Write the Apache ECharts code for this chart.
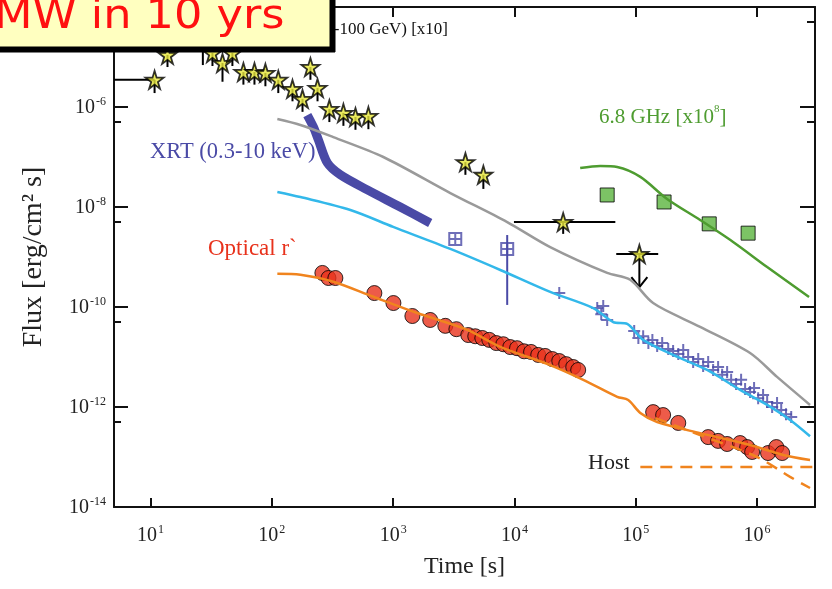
<!DOCTYPE html>
<html>
<head>
<meta charset="utf-8">
<script src="https://cdn.jsdelivr.net/npm/echarts@6/dist/echarts.min.js"></script>
<style>
html,body{margin:0;padding:0;background:#fff}
#main{width:832px;height:589px}
</style>
</head>
<body>
<div id="main"></div>
<script>
// LAT (0.1-100 GeV) x10 : stars with downward bars
var latTime = [10.8, 13.8, 27, 32.4, 39.2, 47.3, 58.3, 71.9, 88.5, 113, 148, 179, 208, 238, 298, 389, 489, 625, 3940, 5540, 25200];
var latFlux = [3.5e-6, 1.1e-5, 2.5e-5, 1.2e-5, 7.6e-6, 1.2e-5, 5e-6, 5e-6, 4.8e-6, 3.5e-6, 2.3e-6, 1.45e-6, 6.3e-6, 2.4e-6, 9.1e-7, 7.6e-7, 6.3e-7, 6.6e-7, 7.9e-8, 4.4e-8, 5e-9];
var latFluxLo = [1.9e-6, 6.3e-6, 6.9e-6, 6.6e-6, 3.2e-6, 6.6e-6, 2.8e-6, 2.8e-6, 2.6e-6, 1.9e-6, 1.3e-6, 8e-7, 3.5e-6, 1.3e-6, 5e-7, 4.2e-7, 3.5e-7, 3.6e-7, 4.4e-8, 2.3e-8, 2.9e-9];
var latBarT0 = [5, 9900];
var latBarT1 = [10.8, 67800];
var latBarF = [3.5e-6, 5e-9];
// LAT upper limit
var ulTime = [1.07e5];
var ulFlux = [1.15e-9];
var ulTo = [2.5e-10];
var ulT0 = [6.9e4];
var ulT1 = [1.53e5];

// model curves
var grayT = [111, 172, 321, 830, 2960, 8710, 19700, 58100, 89900, 139000, 339000, 875000, 1.46e6, 2.73e6];
var grayF = [5.75e-7, 4.37e-7, 2.5e-7, 1e-7, 1.9e-8, 5e-9, 1.58e-9, 4.8e-10, 3.5e-10, 1.2e-10, 4e-11, 1.2e-11, 4e-12, 1.1e-12];
var cyanT = [111, 172, 444, 1000, 2960, 7640, 19700, 44600, 65100, 85000, 115000, 203000, 387000, 724000, 1.21e6, 1.87e6, 2.73e6];
var cyanF = [2e-8, 1.58e-8, 8.7e-9, 4e-9, 1.45e-9, 5.5e-10, 2e-10, 9.5e-11, 5e-11, 4.6e-11, 2.2e-11, 1.1e-11, 5.5e-12, 2.2e-12, 1.1e-12, 5.5e-13, 2.6e-13];
var orangeT = [111, 172, 321, 687, 1580, 4080, 7640, 19700, 36900, 70300, 86600, 109000, 150000, 339000, 875000, 1.64e6, 2.73e6];
var orangeF = [4.6e-10, 4.4e-10, 3.2e-10, 1.6e-10, 7.6e-11, 3.5e-11, 1.6e-11, 6.9e-12, 3.5e-12, 1.6e-12, 1.38e-12, 7.6e-13, 5e-13, 3e-13, 1.74e-13, 1.1e-13, 8.7e-14];
var noHostT = [145000, 339000, 1e6, 1.87e6, 2.73e6];
var noHostF = [6e-13, 2.75e-13, 1e-13, 4e-14, 2.4e-14];
var hostT = [1.09e5, 3e6];
var hostF = [6.3e-14, 6.3e-14];
var greenT = [34800, 50900, 70300, 109000, 181000, 339000, 634000, 1.21e6, 2.68e6];
var greenF = [6e-8, 6.6e-8, 6.3e-8, 4e-8, 1.45e-8, 5.5e-9, 2e-9, 6.3e-10, 1.58e-10];

// XRT (0.3-10 keV)
var xrtT = [196, 220, 242, 287, 367, 613, 1145, 2020];
var xrtF = [6.9e-7, 4e-7, 2.2e-7, 7.6e-8, 4.4e-8, 2.2e-8, 1e-8, 4.8e-9];
var xrtBoxT = [3250, 8710];
var xrtBoxF = [2.3e-9, 1.45e-9];
var xrtBoxHi = [2.3e-9, 2.75e-9];
var xrtBoxLo = [2.3e-9, 1.1e-10];
var xrtLateT = [23400, 48100, 53900, 51900, 58100, 97000, 105000, 115000, 127000, 137000, 150000, 165000, 185000, 203000, 224000, 246000, 270000, 297000, 327000, 359000, 395000, 434000, 477000, 515000, 566000, 611000, 671000, 738000, 796000, 875000, 944000, 1.02e6, 1.12e6, 1.21e6, 1.33e6, 1.46e6, 1.58e6, 1.73e6, 1.91e6];
var xrtLateF = [1.9e-10, 9.5e-11, 1.05e-10, 7.2e-11, 5.5e-11, 3.3e-11, 2.4e-11, 2.6e-11, 1.9e-11, 2.2e-11, 1.66e-11, 1.9e-11, 1.45e-11, 1.32e-11, 1.15e-11, 1.38e-11, 1e-11, 7.9e-12, 9.1e-12, 6.6e-12, 7.9e-12, 5.5e-12, 6.3e-12, 4.4e-12, 5e-12, 3.5e-12, 2.9e-12, 3.5e-12, 2.3e-12, 2e-12, 2.4e-12, 1.5e-12, 1.74e-12, 1.26e-12, 1e-12, 1.2e-12, 8.7e-13, 7.2e-13, 6.3e-13];

// Optical r`
var optT = [261, 293, 334, 700, 1005, 1440, 2020, 2690, 3320, 4160, 4750, 5430, 6200, 7080, 8090, 9230, 10500, 12000, 13700, 15700, 17900, 20500, 23400, 26700, 30500, 33500, 139000, 168000, 224000, 395000, 477000, 566000, 724000, 828000, 910000, 1.23e6, 1.44e6, 1.61e6];
var optF = [4.8e-10, 3.8e-10, 3.8e-10, 1.9e-10, 1.2e-10, 6.6e-11, 5.5e-11, 4.2e-11, 3.6e-11, 2.75e-11, 2.6e-11, 2.4e-11, 2.2e-11, 1.9e-11, 1.8e-11, 1.58e-11, 1.5e-11, 1.3e-11, 1.26e-11, 1.1e-11, 1.05e-11, 9.1e-12, 8.3e-12, 7.2e-12, 6.3e-12, 5.5e-12, 7.9e-13, 6.9e-13, 4.8e-13, 2.5e-13, 2.1e-13, 1.82e-13, 1.9e-13, 1.58e-13, 1.26e-13, 1.2e-13, 1.58e-13, 1.2e-13];

// 6.8 GHz x10^8
var radioT = [58100, 171000, 403000, 843000];
var radioF = [1.74e-8, 1.26e-8, 4.6e-9, 3e-9];

var SERIF = 'Liberation Serif';
var STAR = 'path://M50,0 L61,35 L98,35 L68,57 L79,91 L50,70 L21,91 L32,57 L2,35 L39,35 Z';
var BOXCROSS = 'path://M0,0 L10,0 L10,10 L0,10 Z M5,0 L5,10 M0,5 L10,5';
var PLUS = 'path://M5,0 L5,10 M0,5 L10,5';

function pairs(t, f) {
  return t.map(function (v, i) { return [v, f[i]]; });
}
function segs(t0, f0, t1, f1) {
  return t0.map(function (v, i) { return [v, f0[i], t1[i], f1[i]]; });
}
function segRender(params, api) {
  var p0 = api.coord([api.value(0), api.value(1)]);
  var p1 = api.coord([api.value(2), api.value(3)]);
  return {
    type: 'line',
    shape: { x1: p0[0], y1: p0[1], x2: p1[0], y2: p1[1] },
    style: { stroke: api.visual('color'), lineWidth: 2 }
  };
}
function arrowRender(params, api) {
  var p0 = api.coord([api.value(0), api.value(1)]);
  var p1 = api.coord([api.value(0), api.value(2)]);
  return {
    type: 'group',
    children: [
      { type: 'line', shape: { x1: p0[0], y1: p0[1], x2: p1[0], y2: p1[1] }, style: { stroke: '#000', lineWidth: 2 } },
      { type: 'polyline', shape: { points: [[p1[0] - 8, p1[1] - 10], [p1[0], p1[1]], [p1[0] + 8, p1[1] - 10]] }, style: { stroke: '#000', lineWidth: 2, fill: null } }
    ]
  };
}
function logLabel(v) {
  var e = Math.log10(v);
  var r = Math.round(e);
  if (Math.abs(e - r) > 0.01 || r === -4) return '';
  return '{b|10}{s|' + r + '}';
}
var labelRich = {
  b: { fontFamily: SERIF, fontSize: 20, color: '#222', lineHeight: 22, verticalAlign: 'bottom' },
  s: { fontFamily: SERIF, fontSize: 12, color: '#222', lineHeight: 22, verticalAlign: 'top', padding: [0, 0, 0, 1] }
};
var axisLineStyle = { color: '#111', width: 2 };

var chart = echarts.init(document.getElementById('main'));
var option = {
  backgroundColor: '#fff',
  animation: false,
  grid: { left: 114, right: 17, top: 7, bottom: 82 },
  xAxis: [{
    type: 'log', min: 5, max: 3e6, position: 'bottom',
    axisLine: { lineStyle: axisLineStyle },
    axisTick: { inside: true, length: 9, lineStyle: { color: '#111', width: 2 } },
    axisLabel: { formatter: logLabel, rich: labelRich, margin: 17 },
    splitLine: { show: false },
    name: 'Time [s]', nameLocation: 'middle', nameGap: 48,
    nameTextStyle: { fontFamily: SERIF, fontSize: 24, color: '#222' }
  }, {
    type: 'log', min: 5, max: 3e6, position: 'top',
    axisLine: { lineStyle: axisLineStyle },
    axisTick: { inside: true, length: 10, lineStyle: { color: '#111', width: 2 } },
    axisLabel: { show: false },
    splitLine: { show: false }
  }],
  yAxis: [{
    type: 'log', min: 1e-14, max: 1e-4, interval: 2, position: 'left',
    axisLine: { lineStyle: axisLineStyle },
    axisTick: { inside: true, length: 14, lineStyle: { color: '#111', width: 2 } },
    minorTick: { show: true, splitNumber: 2, length: 7, lineStyle: { color: '#111', width: 2 } },
    axisLabel: { formatter: logLabel, rich: labelRich, margin: 8 },
    splitLine: { show: false },
    minorSplitLine: { show: false },
    name: 'Flux [erg/cm² s]', nameLocation: 'middle', nameGap: 66, nameRotate: 90,
    nameTextStyle: { fontFamily: SERIF, fontSize: 28, color: '#222' }
  }, {
    type: 'log', min: 1e-14, max: 1e-4, interval: 2, position: 'right',
    axisLine: { lineStyle: axisLineStyle },
    axisTick: { inside: true, length: 15, lineStyle: { color: '#111', width: 2 } },
    minorTick: { show: true, splitNumber: 2, length: 8, lineStyle: { color: '#111', width: 2 } },
    axisLabel: { show: false },
    splitLine: { show: false },
    minorSplitLine: { show: false }
  }],
  series: [
    { name: 'XRT band', type: 'line', data: pairs(xrtT, xrtF), showSymbol: false, smooth: 0.3,
      lineStyle: { color: '#4a4aa6', width: 9 }, z: 2 },
    { name: 'XRT box err', type: 'custom', renderItem: segRender, itemStyle: { color: '#4a4aa6' },
      data: segs(xrtBoxT, xrtBoxHi, xrtBoxT, xrtBoxLo), encode: { x: [0, 2], y: [1, 3] }, z: 2 },
    { name: 'XRT box', type: 'scatter', data: pairs(xrtBoxT, xrtBoxF), symbol: BOXCROSS, symbolSize: 12,
      itemStyle: { color: 'rgba(0,0,0,0)', borderColor: '#4a4aa6', borderWidth: 2 }, z: 3 },
    { name: 'XRT late', type: 'scatter', data: pairs(xrtLateT, xrtLateF), symbol: PLUS, symbolSize: 12,
      itemStyle: { color: 'rgba(0,0,0,0)', borderColor: '#4a4aa6', borderWidth: 2 }, z: 3 },
    { name: 'Optical', type: 'scatter', data: pairs(optT, optF), symbol: 'circle', symbolSize: 15,
      itemStyle: { color: '#e8321c', borderColor: '#000', borderWidth: 1 }, z: 3 },
    { name: 'Radio', type: 'scatter', data: pairs(radioT, radioF), symbol: 'rect', symbolSize: 14,
      itemStyle: { color: '#5bb43e', borderColor: '#000', borderWidth: 1 }, z: 3 },
    { name: 'LAT err', type: 'custom', renderItem: segRender, itemStyle: { color: '#000' },
      data: segs(latTime, latFlux, latTime, latFluxLo).concat(segs(latBarT0, latBarF, latBarT1, latBarF))
        .concat(segs(ulT0, ulFlux, ulT1, ulFlux)),
      encode: { x: [0, 2], y: [1, 3] }, z: 4 },
    { name: 'LAT UL', type: 'custom', renderItem: arrowRender,
      data: ulTime.map(function (v, i) { return [v, ulFlux[i], ulTo[i]]; }),
      encode: { x: 0, y: [1, 2] }, z: 4 },
    { name: 'LAT', type: 'scatter', data: pairs(latTime.concat(ulTime), latFlux.concat(ulFlux)), symbol: STAR, symbolSize: 18,
      itemStyle: { color: '#e6e63a', borderColor: '#000', borderWidth: 1.8 }, z: 5 },
    { name: 'gray model', type: 'line', data: pairs(grayT, grayF), showSymbol: false, smooth: 0.3,
      lineStyle: { color: '#9a9a9a', width: 2.5 }, z: 6 },
    { name: 'cyan model', type: 'line', data: pairs(cyanT, cyanF), showSymbol: false, smooth: 0.3,
      lineStyle: { color: '#33b8ea', width: 2.5 }, z: 6 },
    { name: 'orange model', type: 'line', data: pairs(orangeT, orangeF), showSymbol: false, smooth: 0.3,
      lineStyle: { color: '#f0841e', width: 2.5 }, z: 6 },
    { name: 'no host', type: 'line', data: pairs(noHostT, noHostF), showSymbol: false, smooth: 0.3,
      lineStyle: { color: '#f0841e', width: 2.5, type: [12, 8] }, z: 6 },
    { name: 'host', type: 'line', data: pairs(hostT, hostF), showSymbol: false,
      lineStyle: { color: '#f0841e', width: 2.5, type: [12, 8] }, z: 6 },
    { name: 'green model', type: 'line', data: pairs(greenT, greenF), showSymbol: false, smooth: 0.3,
      lineStyle: { color: '#4e9c30', width: 2.5 }, z: 6 }
  ],
  graphic: [
    { type: 'text', x: 448, y: 30, z: 50,
      style: { text: 'LAT (0.1-100 GeV) [x10]', fontFamily: SERIF, fontSize: 17, fill: '#111', align: 'right', verticalAlign: 'middle' } },
    { type: 'text', x: 150, y: 152, z: 50,
      style: { text: 'XRT (0.3-10 keV)', fontFamily: SERIF, fontSize: 22.5, fill: '#4a4aa6', verticalAlign: 'middle' } },
    { type: 'text', x: 208, y: 249, z: 50,
      style: { text: 'Optical r`', fontFamily: SERIF, fontSize: 23, fill: '#e8321c', verticalAlign: 'middle' } },
    { type: 'text', x: 599, y: 116, z: 50,
      style: { text: '{a|6.8 GHz [x10}{s|8}{a|]}', verticalAlign: 'middle',
        rich: { a: { fontFamily: SERIF, fontSize: 21, fill: '#4e9c30', color: '#4e9c30', lineHeight: 24, verticalAlign: 'bottom' },
                s: { fontFamily: SERIF, fontSize: 11, fill: '#4e9c30', color: '#4e9c30', lineHeight: 24, verticalAlign: 'top' } } } },
    { type: 'text', x: 588, y: 463, z: 50,
      style: { text: 'Host', fontFamily: SERIF, fontSize: 22, fill: '#222', verticalAlign: 'middle' } },
    { type: 'rect', z: 100, shape: { x: -10, y: -10, width: 340, height: 57 },
      style: { fill: '#ffffc0', stroke: '#000', lineWidth: 1, shadowColor: '#000', shadowOffsetX: 5, shadowOffsetY: 5, shadowBlur: 0 } },
    { type: 'text', x: -6, y: 18, scaleX: 1.115, z: 101,
      style: { text: 'MW in 10 yrs', fontFamily: 'DejaVu Sans', fontSize: 40, fill: '#ff1010', align: 'left', verticalAlign: 'middle' } }
  ]
};
chart.setOption(option);
</script>
</body>
</html>
